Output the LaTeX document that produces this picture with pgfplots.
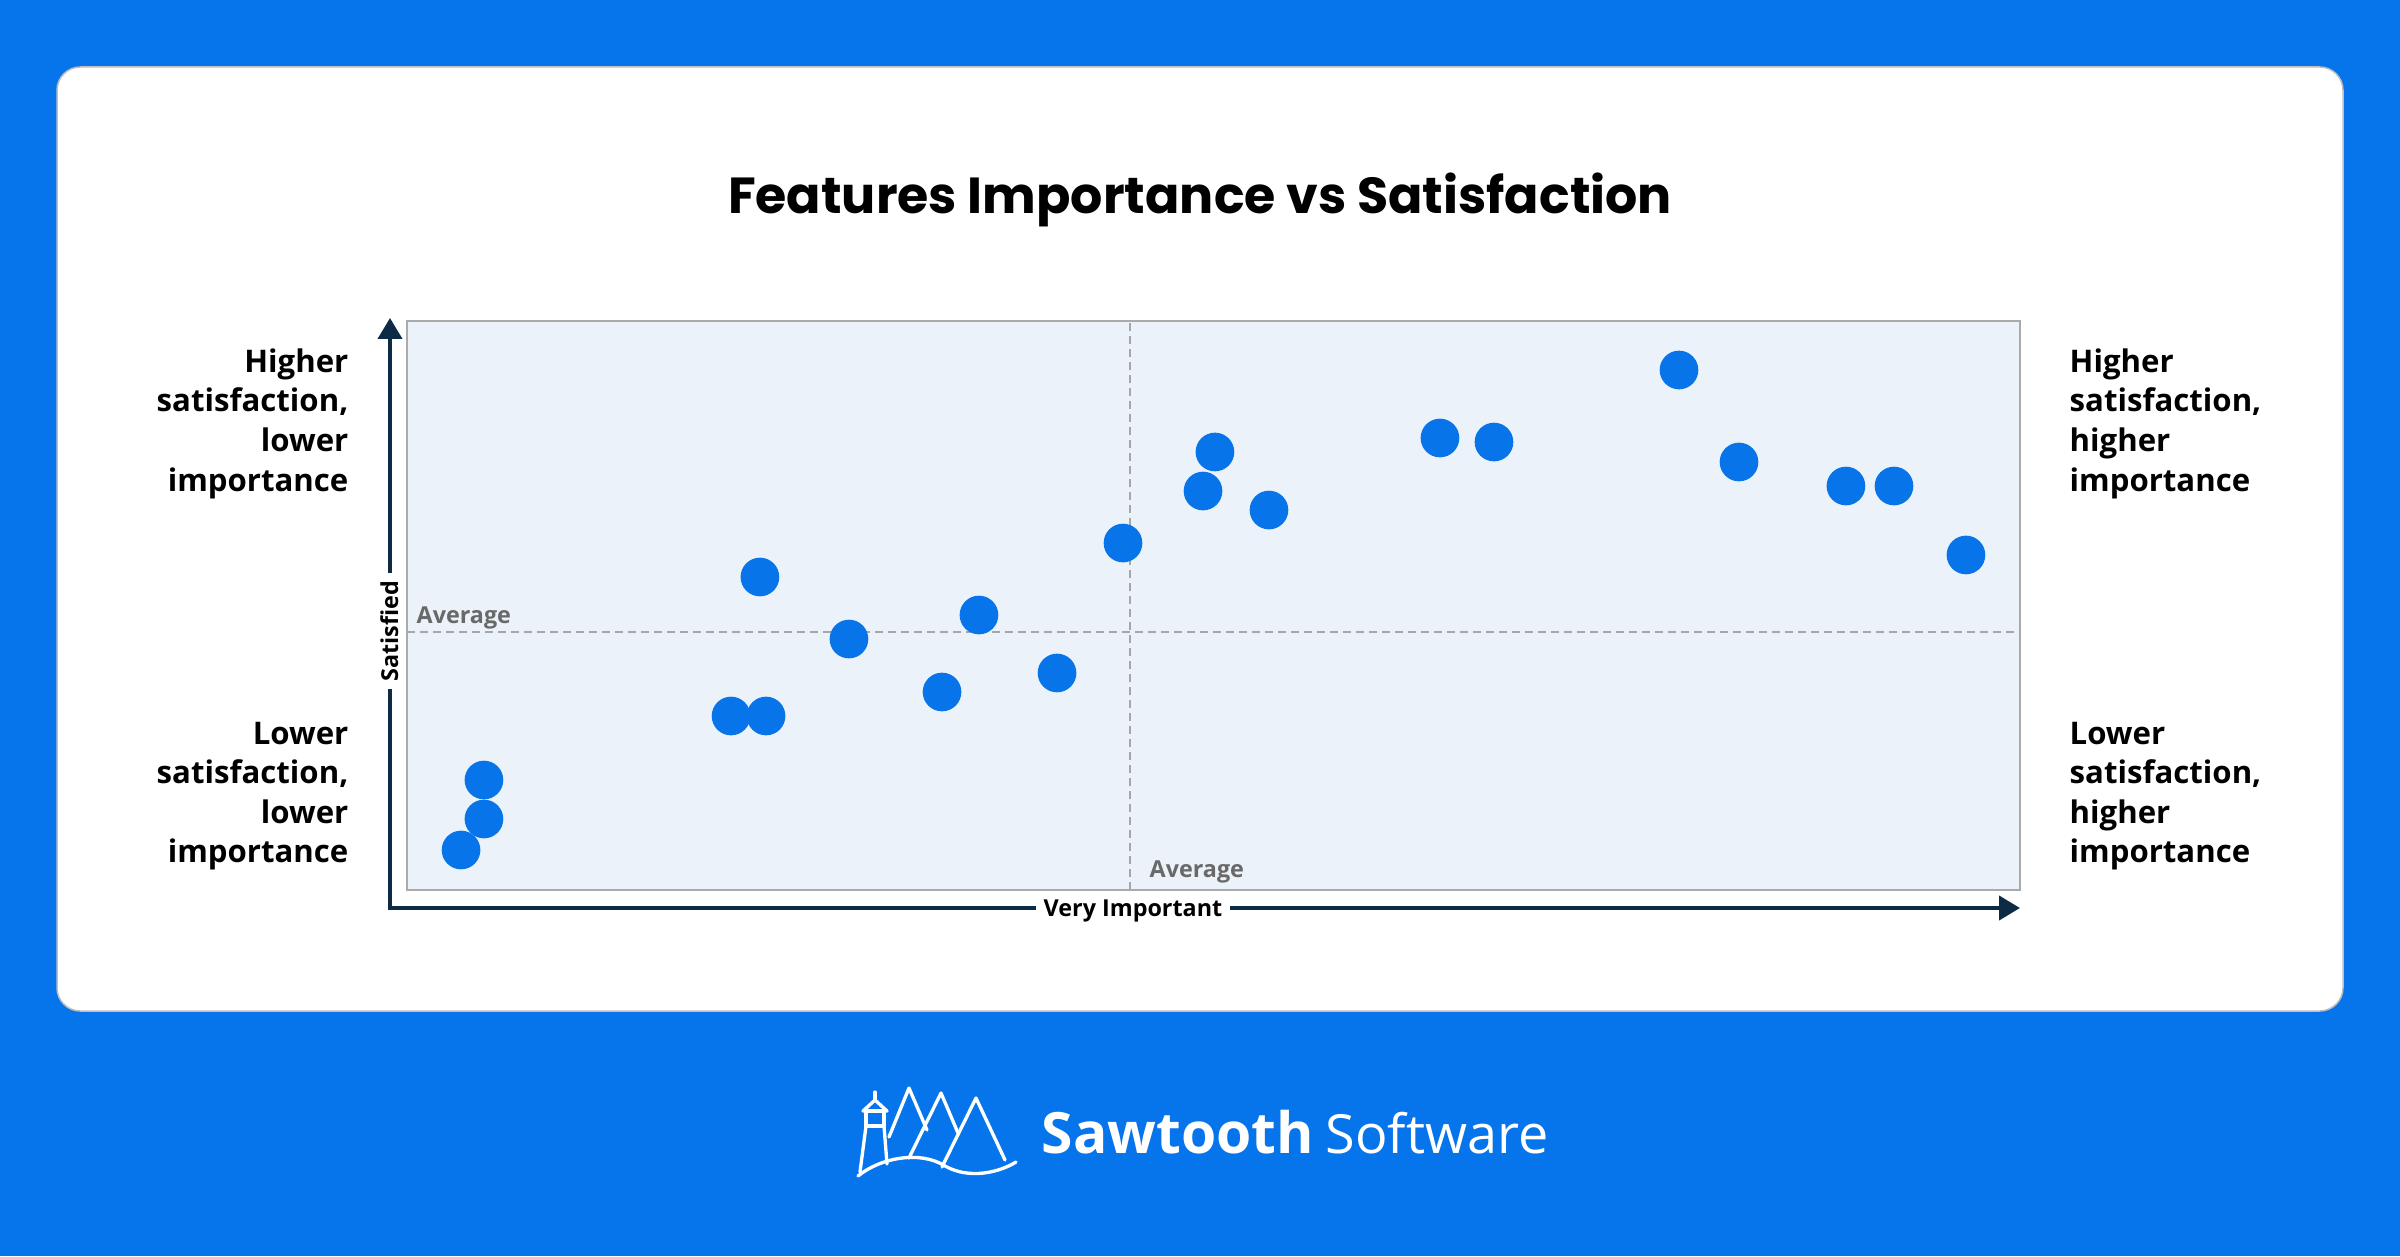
\documentclass[border=0pt]{standalone}
\usepackage{fontspec}
\setmainfont{Open Sans}
\newfontfamily\titlefont{Poppins}
\usepackage{pgfplots}
\pgfplotsset{compat=1.18}
\usetikzlibrary{arrows.meta}
\definecolor{bgblue}{RGB}{6,116,234}
\definecolor{dotblue}{RGB}{8,116,233}
\definecolor{plotbg}{RGB}{235,242,250}
\definecolor{plotborder}{RGB}{170,170,170}
\definecolor{avggray}{RGB}{166,166,166}
\definecolor{avgtext}{RGB}{105,105,105}
\definecolor{navy}{RGB}{13,43,69}
\definecolor{cardgray}{RGB}{190,190,190}
\begin{document}
\begin{tikzpicture}[x=0.3pt,y=0.3pt]
\useasboundingbox (0,0) rectangle (2400,1256);
\fill[bgblue] (0,0) rectangle (2400,1256);
\filldraw[fill=white, draw=cardgray, line width=0.45pt, rounded corners=7pt] (57,1256-67) rectangle (2343,1256-1011);
% title
\node[anchor=base, inner sep=0, font=\titlefont\bfseries\fontsize{15.2}{18}\selectfont] at (1200,1256-214) {Features Importance vs Satisfaction};
% axis
\begin{axis}[at={(407*0.3pt,{(1256-890)*0.3pt})}, anchor=south west,
  width=483.9pt, height=170.7pt, scale only axis,
  xmin=0, xmax=100, ymin=0, ymax=100,
  xtick=\empty, ytick=\empty,
  axis background/.style={fill=plotbg},
  axis line style={draw=plotborder, line width=0.6pt},
  clip=false]
\addplot[only marks, mark=*, mark size=5.6pt, color=dotblue, mark options={draw=none, fill=dotblue}] coordinates {
(3.35,7.03) (4.77,12.48) (4.77,19.33) (20.09,30.58) (22.26,30.58)
(21.88,55.01) (27.40,44.11) (33.17,34.80) (35.46,48.33) (40.30,38.14)
(44.39,60.98) (49.35,70.12) (50.09,76.98) (53.44,66.78) (64.04,79.44)
(67.39,78.73) (78.86,91.39) (82.58,75.22) (89.21,71.00) (92.19,71.00)
(96.65,58.88)};
\draw[avggray, line width=0.6pt, dash pattern=on 2.4pt off 1.5pt] (axis cs:44.82,0) -- (axis cs:44.82,100);
\draw[avggray, line width=0.6pt, dash pattern=on 2.4pt off 1.5pt] (axis cs:0,45.34) -- (axis cs:100,45.34);
\end{axis}
% average labels
\node[anchor=base west, inner sep=0, text=avgtext, font=\bfseries\fontsize{7}{8}\selectfont] at (416,1256-623) {Average};
\node[anchor=base west, inner sep=0, text=avgtext, font=\bfseries\fontsize{7}{8}\selectfont] at (1149,1256-877) {Average};
% arrows
\draw[navy, line width=1.2pt, line join=miter, {Triangle[length=6.3pt,width=7.2pt]}-{Triangle[length=6.3pt,width=7.2pt]}] (390,1256-318) -- (390,1256-908) -- (2020,1256-908);
\node[anchor=base, rotate=90, fill=white, inner xsep=2.4pt, inner ysep=1pt, font=\bfseries\fontsize{7}{8}\selectfont] at (398,1256-631) {Satisfied};
\node[anchor=base, fill=white, inner xsep=2.4pt, inner ysep=1pt, font=\bfseries\fontsize{7}{8}\selectfont] at (1133,1256-916) {Very Important};
% side labels
\foreach \t/\yy in {Higher/372, {satisfaction,}/411.7, lower/451.3, importance/491, Lower/744, {satisfaction,}/783.5, lower/823, importance/862.5}
  \node[anchor=base east, inner sep=0, font=\bfseries\fontsize{9.35}{12}\selectfont] at (349,1256-\yy) {\t};
\foreach \t/\yy in {Higher/372, {satisfaction,}/411.7, higher/451.3, importance/491, Lower/744, {satisfaction,}/783.5, higher/823, importance/862.5}
  \node[anchor=base west, inner sep=0, font=\bfseries\fontsize{9.35}{12}\selectfont] at (2069,1256-\yy) {\t};
% logo
\node[anchor=base west, inner sep=0, text=white, font=\bfseries\fontsize{17.1}{20}\selectfont] at (1041,1256-1153) {Sawtooth};
\node[anchor=base west, inner sep=0, text=white, font=\fontsize{16.2}{20}\selectfont] at (1325,1256-1153) {Software};
\begin{scope}[white, line width=1pt, line join=round, line cap=round]
\draw (875,1256-1092) -- (875,1256-1100);
\draw (863,1256-1111) -- (875,1256-1100) -- (887,1256-1111) -- cycle;
\draw (866,1256-1111) rectangle (884,1256-1126);
\draw (866,1256-1126) -- (860,1256-1172);
\draw (884,1256-1126) -- (887,1256-1164);
\draw (889,1256-1137) -- (909,1256-1088) -- (927,1256-1130);
\draw (909,1256-1158) -- (941,1256-1093) -- (958,1256-1133);
\draw (942,1256-1167) -- (976,1256-1098) -- (1005,1256-1160);
\draw (858,1256-1176) .. controls (880,1256-1158) and (920,1256-1150) .. (945,1256-1166) .. controls (970,1256-1180) and (1000,1256-1172) .. (1016,1256-1162);
\end{scope}
\end{tikzpicture}
\end{document}
